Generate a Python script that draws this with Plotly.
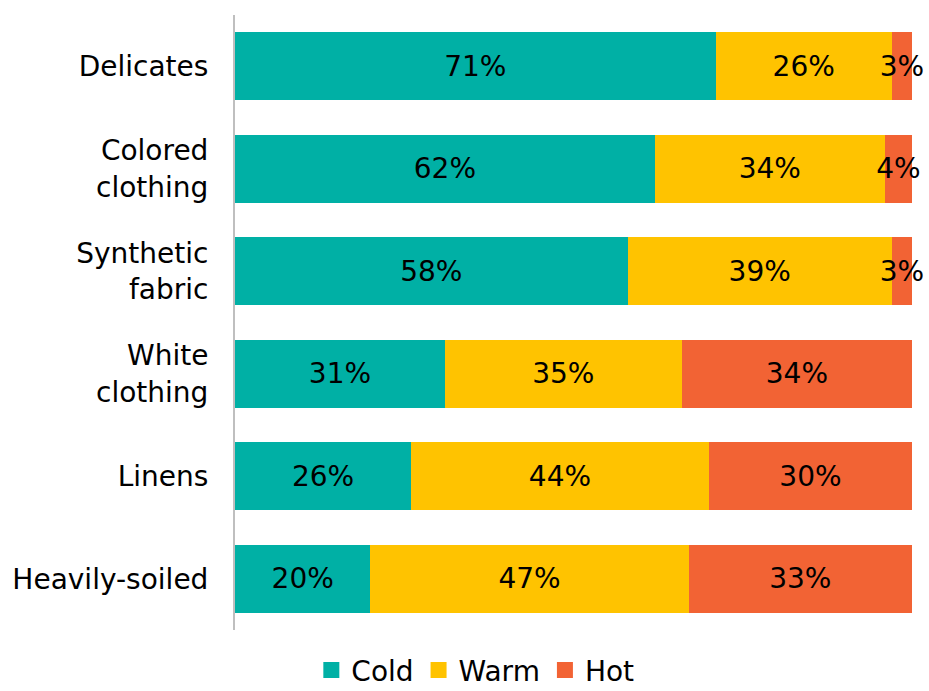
import plotly.graph_objects as go

categories = ["Delicates", "Colored<br>clothing", "Synthetic<br>fabric", "White<br>clothing", "Linens", "Heavily-soiled"]
cold = [71, 62, 58, 31, 26, 20]
warm = [26, 34, 39, 35, 44, 47]
hot = [3, 4, 3, 34, 30, 33]

series = [("Cold", cold, "#00B0A5"), ("Warm", warm, "#FFC300"), ("Hot", hot, "#F26334")]

FONT = "DejaVu Sans"
SIZE = 28

fig = go.Figure()
for name, vals, color in series:
    fig.add_trace(go.Bar(
        y=categories, x=vals, name=name, orientation="h",
        marker=dict(color=color, line=dict(width=0)),
        text=[f"{v}%" for v in vals], textposition="inside", textangle=0,
        insidetextanchor="middle",
        textfont=dict(family=FONT, size=SIZE, color="black"),
        cliponaxis=False, showlegend=False,
    ))

# legend entries drawn as square markers
for name, _, color in series:
    fig.add_trace(go.Scatter(
        x=[None], y=[None], mode="markers", name=name,
        marker=dict(symbol="square", size=19, color=color),
    ))

fig.update_layout(
    barmode="stack", bargap=0.34,
    width=929, height=691,
    margin=dict(l=235, r=17, t=15, b=61, autoexpand=False),
    plot_bgcolor="white", paper_bgcolor="white",
    font=dict(family=FONT, size=SIZE, color="black"),
    uniformtext=dict(minsize=SIZE, mode="show"),
    xaxis=dict(range=[0, 100], visible=False, fixedrange=True),
    yaxis=dict(autorange="reversed", showline=True, linecolor="#BFBFBF", linewidth=2,
               showgrid=False, ticks="", ticklabelstandoff=19),
    legend=dict(orientation="h", x=0.355, xanchor="center", yref="container",
                y=0.03, yanchor="middle", font=dict(size=SIZE), itemwidth=30,
                traceorder="normal", itemsizing="trace"),
)

fig.write_html("out.html")
